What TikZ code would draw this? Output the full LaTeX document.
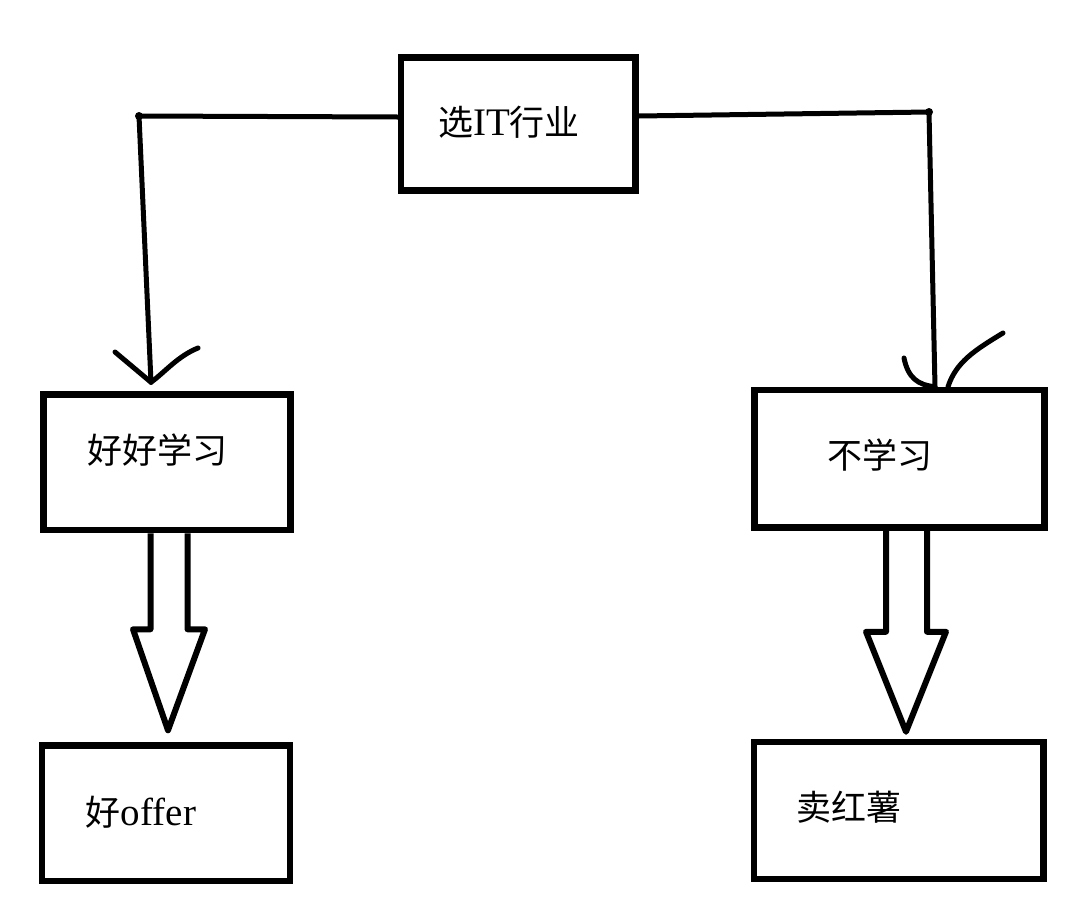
\documentclass[tikz,border=0pt]{standalone}
\usepackage{fontspec}
\setmainfont{Liberation Serif}
\newfontfamily\cjk{Noto Sans CJK SC}
\usepackage{tikz}
\usetikzlibrary{positioning}

\newcommand{\latin}[1]{{\fontsize{39pt}{40pt}\selectfont #1}}

\begin{document}
\begin{tikzpicture}[x=1pt, y=-1pt,
    box/.style={rectangle, draw=black, line width=6.5pt, inner sep=0pt},
    txt/.style={inner sep=0pt, font=\fontsize{35pt}{40pt}\selectfont},
    link/.style={draw=black, line width=5pt, line cap=round, line join=round},
    block/.style={draw=black, line width=6pt, line join=round}]
            \useasboundingbox (0,0) rectangle (1087,900);

            \node[box, minimum width=234.5pt, minimum height=133pt] (choose) at (518.25, 124) {};
            \node[box, minimum width=247pt, minimum height=135.5pt] (study) at (167, 462.25) {};
            \node[box, minimum width=290pt, minimum height=137.5pt] (skip) at (899.5, 458.75) {};
            \node[box, minimum width=248pt, minimum height=135.5pt] (offer) at (166, 813.25) {};
            \node[box, minimum width=289.5pt, minimum height=137pt] (sell) at (898.75, 810.5) {};

            \node[txt] (chooseText) at (509, 122) {{\cjk 选}\latin{IT}{\cjk 行业}};
            \node[txt] (studyText) at (157.5, 450) {\cjk 好好学习};
            \node[txt] (skipText) at (880, 455) {\cjk 不学习};
            \node[txt] (offerText) at (141, 812) {{\cjk 好}\latin{offer}};
            \node[txt] (sellText) at (849, 807) {\cjk 卖红薯};

            % corners and arrow tips of the hand drawn lines
            \coordinate (lcorner) at (139, 116);
            \coordinate (rcorner) at (929, 112);
            \coordinate (ltip) at ([xshift=-16pt, yshift=9pt]study.north);
            \coordinate (rtip) at ([xshift=35.5pt]skip.north);

            \draw[link] ([yshift=7pt]choose.west) -- (lcorner) -- (ltip);
            \draw[link] ([yshift=8pt]choose.east) -- (rcorner) -- (rtip);
            \fill (lcorner) circle (4);
            \fill (rcorner) circle (4);

            \draw[link] (115, 352) -- (ltip);
            \draw[link] (ltip) .. controls (165, 372) and (178, 356) .. (198, 348);
            \draw[link] (904, 358) .. controls (908, 378) and (918, 385) .. (rtip);
            \draw[link] ([xshift=13pt]rtip) .. controls (956, 362) and (975, 350) .. (1003, 333);

            \draw[block] ([xshift=-16.5pt]study.south) -- ++(0, 96) -- ++(-17.5, 0) -- ++(35, 101) -- ++(37, -101) -- ++(-17.5, 0) -- ([xshift=20.5pt]study.south);
            \draw[block] ([xshift=-13.5pt]skip.south) -- ++(0, 101) -- ++(-20, 0) -- ++(40, 100) -- ++(40, -100) -- ++(-19, 0) -- ([xshift=27.5pt]skip.south);
        \end{tikzpicture}
\end{document}
